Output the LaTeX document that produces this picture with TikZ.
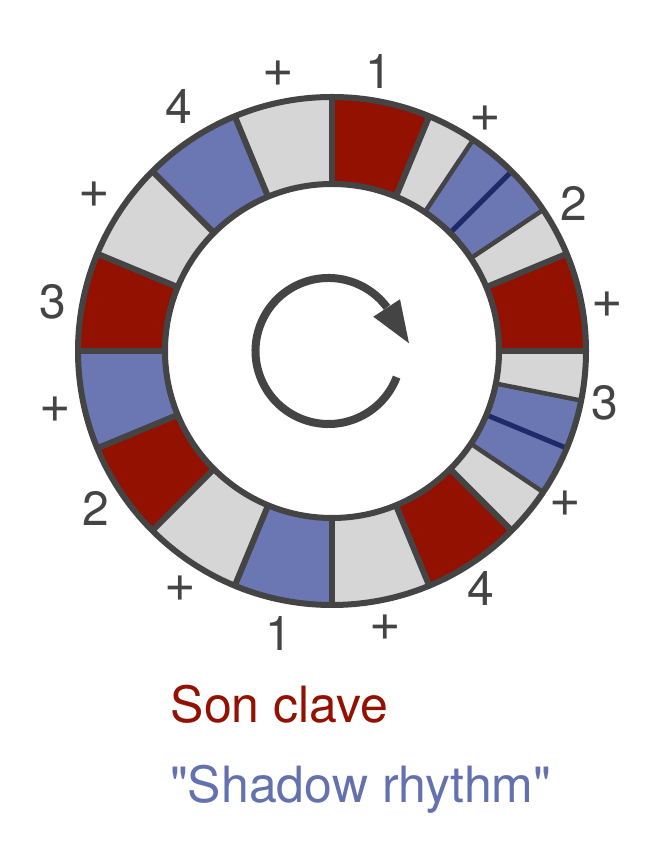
\documentclass[tikz,border=0pt]{standalone}
\usepackage{fontspec}
\setmainfont{TeX Gyre Heros}
\setmonofont{TeX Gyre Heros}
\definecolor{clavered}{HTML}{931100}
\definecolor{shadowblue}{HTML}{6B77B3}
\definecolor{restgray}{HTML}{D6D6D6}
\definecolor{ringdark}{HTML}{444444}
\definecolor{navyline}{HTML}{1F2A6B}
\definecolor{textblue}{HTML}{6371AF}
\tikzset{
  ringline/.style={draw=ringdark, line width=6pt},
  thinring/.style={draw=ringdark, line width=4.5pt},
  subline/.style={draw=navyline, line width=5pt},
  arrowline/.style={draw=ringdark, line width=8pt},
  beatlabel/.style={inner sep=0pt, text=ringdark, font=\fontsize{48}{56}\selectfont},
  pluslabel/.style={inner sep=0pt, text=ringdark, font=\fontsize{54}{60}\selectfont},
  legend/.style={inner sep=0pt, anchor=base west, font=\fontsize{50}{58}\selectfont},
}
\begin{document}
\begin{tikzpicture}[x=1pt,y=1pt]
\useasboundingbox (0,0) rectangle (662,854);
\fill[white] (0,0) rectangle (662,854);
\begin{scope}[shift={(332,503)}]
  \foreach \a/\b/\c in {67.5/90/clavered, 56.25/67.5/restgray, 33.75/56.25/shadowblue,
      22.5/33.75/restgray, 0/22.5/clavered, -11.25/0/restgray, -33.75/-11.25/shadowblue,
      -45/-33.75/restgray, -67.5/-45/clavered, -90/-67.5/restgray,
      90/112.5/restgray, 112.5/135/shadowblue, 135/157.5/restgray, 157.5/180/clavered,
      180/202.5/shadowblue, 202.5/225/clavered, 225/247.5/restgray, 247.5/270/shadowblue}{
    \fill[\c] (\a:254pt) arc[start angle=\a, end angle=\b, radius=254pt]
      -- (\b:167pt) arc[start angle=\b, end angle=\a, radius=167pt] -- cycle;
  }
  \foreach \a in {45,-22.5}{
    \draw[subline] (\a:167pt) -- (\a:254pt);
  }
  \foreach \a in {56.25,33.75,-11.25,-33.75}{
    \draw[thinring] (\a:167pt) -- (\a:254pt);
  }
  \foreach \a in {90,67.5,22.5,0,-45,-67.5,-90,112.5,135,157.5,180,202.5,225,247.5}{
    \draw[ringline] (\a:167pt) -- (\a:254pt);
  }
  \draw[ringline] (0,0) circle[radius=254pt];
  \draw[ringline] (0,0) circle[radius=167pt];
\end{scope}
% rotation arrow
\coordinate (ac) at (328.5,503);
\draw[arrowline] (ac) ++(-21:73pt) arc[start angle=-21, end angle=-323.3, radius=73pt];
\fill[ringdark] (373.3,537.3) -- (400,554.7) -- (409,510.7) -- cycle;
% beat labels
\node[beatlabel] (l1) at (379.3,782.5) {1};
\node[pluslabel] (l2) at (485,734.8) {+};
\node[beatlabel] (l3) at (574.3,651) {2};
\node[pluslabel] (l4) at (607.7,549) {+};
\node[beatlabel] (l5) at (604.5,451) {3};
\node[pluslabel] (l6) at (565,350.7) {+};
\node[beatlabel] (l7) at (480.5,266) {4};
\node[pluslabel] (l8) at (385,226.5) {+};
\node[beatlabel] (l9) at (279,220.7) {1};
\node[pluslabel] (l10) at (180,265.2) {+};
\node[beatlabel] (l11) at (95.5,345.2) {2};
\node[pluslabel] (l12) at (55,444) {+};
\node[beatlabel] (l13) at (53.3,552.3) {3};
\node[pluslabel] (l14) at (94.7,659.3) {+};
\node[beatlabel] (l15) at (178.8,747.7) {4};
\node[pluslabel] (l16) at (277.8,779.8) {+};
% legend
\node[legend, text=clavered] (son) at (170.5,131) {Son clave};
\node[legend, text=textblue, font=\fontsize{50}{58}\selectfont\ttfamily] (shadow) at (170,51.5) {"Shadow rhythm"};
\end{tikzpicture}
\end{document}
